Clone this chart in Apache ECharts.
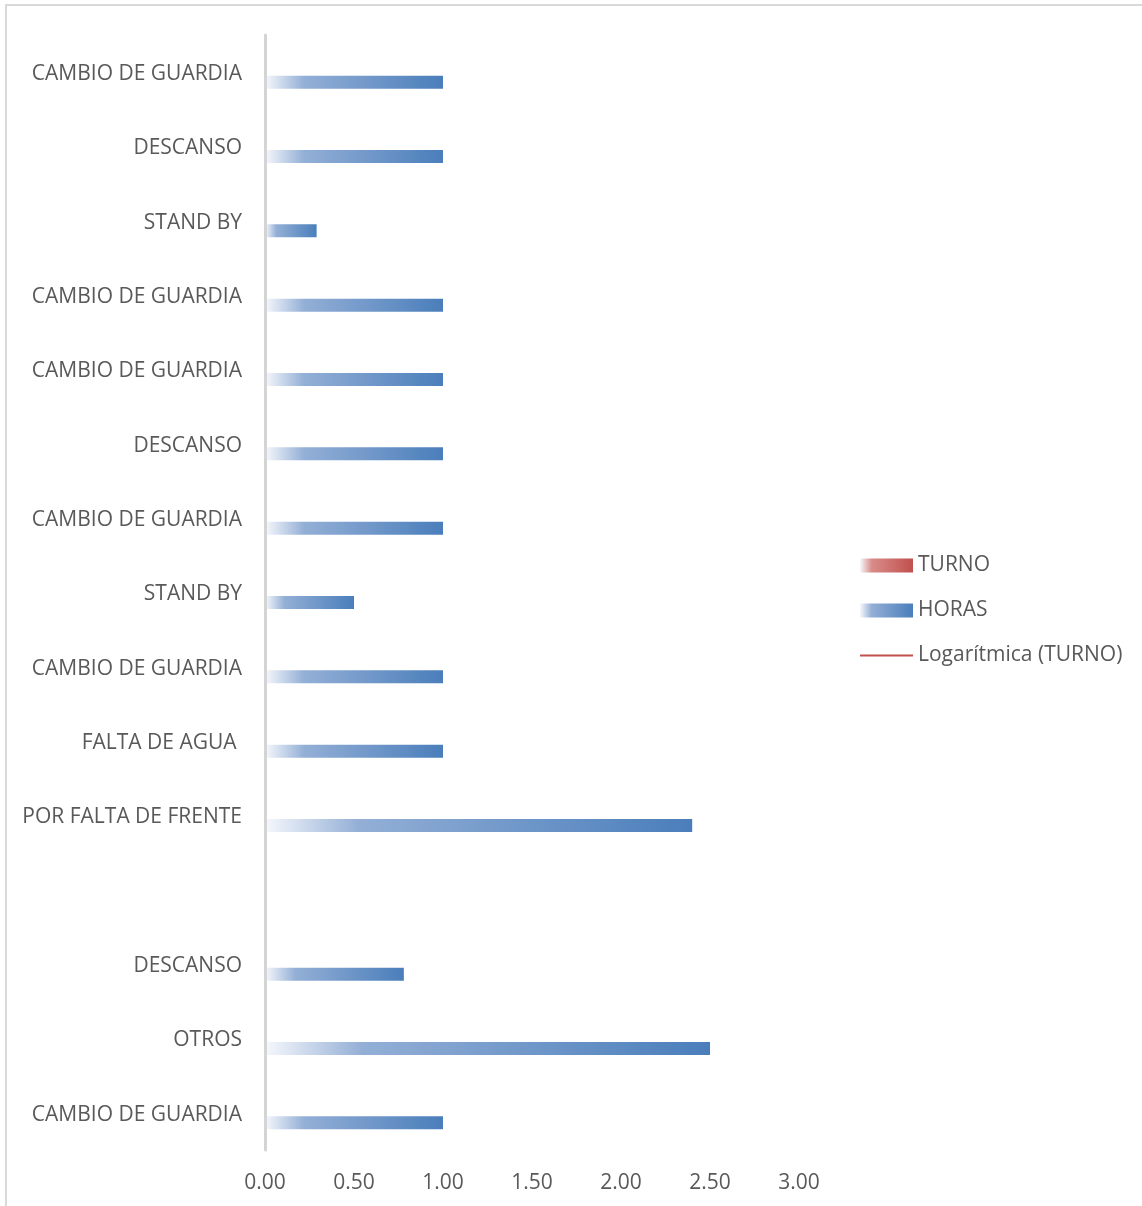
<!DOCTYPE html>
<html>
<head>
<meta charset="utf-8">
<script src="https://cdn.jsdelivr.net/npm/echarts@6/dist/echarts.min.js"></script>
<style>
  html, body { margin: 0; padding: 0; background: #fff; }
  #chart { width: 1142px; height: 1206px; }
</style>
</head>
<body>
<div id="chart"></div>
<script>
// Activity per row, top to bottom (one empty row between FRENTE and DESCANSO)
const categories = [
  'CAMBIO DE GUARDIA', 'DESCANSO', 'STAND BY', 'CAMBIO DE GUARDIA',
  'CAMBIO DE GUARDIA', 'DESCANSO', 'CAMBIO DE GUARDIA', 'STAND BY',
  'CAMBIO DE GUARDIA', 'FALTA DE AGUA ', 'POR FALTA DE FRENTE', '',
  'DESCANSO', 'OTROS', 'CAMBIO DE GUARDIA'
];
// Hours lost per activity
const horas = [1.00, 1.00, 0.29, 1.00, 1.00, 1.00, 1.00, 0.50, 1.00, 1.00, 2.40, null, 0.78, 2.50, 1.00];
// Shift series: no values recorded
const turno = [];
const trendTurno = [];

const seriesNames = ['TURNO', 'HORAS', 'Logarítmica (TURNO)'];
const xTicks = { min: 0, max: 3, step: 0.5 };

const FONT = '"Open Sans", "Noto Sans", sans-serif';
const TEXT = '#595959';
const FS = 21;

function fade(dark, mid) {
  return new echarts.graphic.LinearGradient(0, 0, 1, 0, [
    { offset: 0, color: '#f6f8fc' },
    { offset: 0.22, color: mid },
    { offset: 1, color: dark }
  ]);
}
const blue = () => fade('#4a7ebb', '#93afd6');
const red = () => fade('#c0504d', '#d98c8a');

const legendBase = {
  orient: 'vertical',
  left: 860,
  padding: 0,
  itemWidth: 53,
  itemHeight: 14,
  selectedMode: false,
  textStyle: { color: TEXT, fontFamily: FONT, fontSize: FS, lineHeight: 14, padding: [0, 0, 0, 0] }
};

const chart = echarts.init(document.getElementById('chart'), null, { renderer: 'canvas' });
chart.setOption({
  animation: false,
  backgroundColor: '#ffffff',
  graphic: [{
    type: 'rect',
    shape: { x: 6, y: 5, width: 1300, height: 1300 },
    style: { fill: 'none', stroke: '#d9d9d9', lineWidth: 2 },
    silent: true
  }],
  legend: [
    Object.assign({}, legendBase, { top: 555, data: [{ name: seriesNames[0], icon: 'rect' }] }),
    Object.assign({}, legendBase, { top: 600, data: [{ name: seriesNames[1], icon: 'rect' }] }),
    Object.assign({}, legendBase, { top: 645, itemHeight: 2, data: [{ name: seriesNames[2], icon: 'rect' }] })
  ],
  grid: { left: 265, top: 35, width: 534, height: 1115, outerBoundsMode: 'none', containLabel: false },
  xAxis: {
    type: 'value',
    min: xTicks.min,
    max: xTicks.max,
    interval: xTicks.step,
    axisLine: { show: false },
    axisTick: { show: false },
    splitLine: { show: false },
    axisLabel: {
      color: TEXT, fontFamily: FONT, fontSize: FS, margin: 23,
      formatter: v => v.toFixed(2)
    }
  },
  yAxis: {
    type: 'category',
    inverse: true,
    data: categories,
    z: 5,
    axisLine: { show: true, lineStyle: { color: '#d4d4d4', width: 3 } },
    axisTick: { show: false },
    splitLine: { show: false },
    axisLabel: {
      margin: 23, interval: 0,
      formatter: v => '{c|' + v + '}',
      rich: { c: { color: TEXT, fontFamily: FONT, fontSize: FS, padding: [4, 0, 0, 0] } }
    }
  },
  series: [
    {
      name: seriesNames[0],
      type: 'bar',
      data: turno,
      barWidth: 13,
      barGap: '54%',
      itemStyle: { color: red() }
    },
    {
      name: seriesNames[1],
      type: 'bar',
      data: horas,
      barWidth: 13,
      barGap: '54%',
      itemStyle: { color: blue() }
    },
    {
      name: seriesNames[2],
      type: 'line',
      data: trendTurno,
      symbol: 'none',
      color: '#c0504d',
      lineStyle: { color: '#c0504d', width: 1.5 }
    }
  ]
});
</script>
</body>
</html>
